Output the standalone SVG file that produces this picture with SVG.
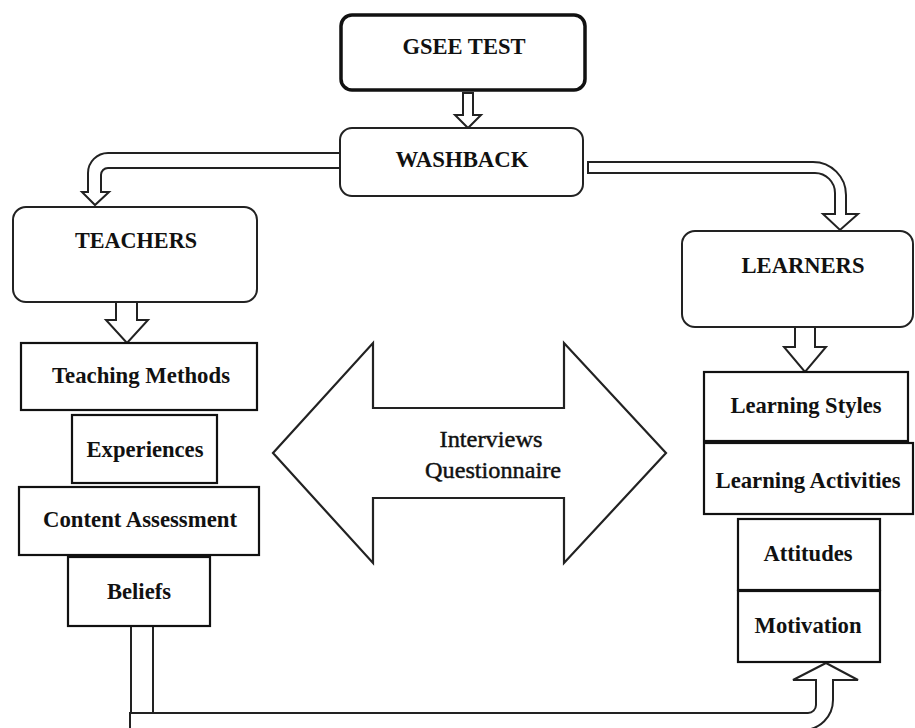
<svg xmlns="http://www.w3.org/2000/svg" width="915" height="728" viewBox="0 0 915 728">
<style>
.pipe{fill:#fff;stroke:#222;stroke-width:2;stroke-linejoin:miter}
.box{fill:#fff;stroke:#111;stroke-width:2.2}
.rbox{fill:#fff;stroke:#222;stroke-width:2}
.t{font-family:"Liberation Serif","Times New Roman",serif;font-weight:bold;font-size:24px;fill:#111;text-anchor:middle}
.tr{font-family:"Liberation Serif","Times New Roman",serif;font-weight:normal;font-size:24px;fill:#111;stroke:#111;stroke-width:0.45;text-anchor:middle}
</style>
<rect width="915" height="728" fill="#fff"/>
<g id="connectors">
<path class="pipe" d="M340,153 H108 A20,20 0 0 0 88,173 V192 H82 L95,205 L109,192 H101 V175 A7,7 0 0 1 108,168 H340 Z"/>
<path class="pipe" d="M588,162 H813 A33,33 0 0 1 846,195 V214 H858 L840,230 L823,214 H835 V193 A20,20 0 0 0 815,173 H588 Z"/>
<path class="pipe" d="M463,93 H473 V115 H481 L468,128 L455,115 H463 Z"/>
<path class="pipe" d="M116,302 H137 V320 H148 L127,343 L106,320 H116 Z"/>
<path class="pipe" d="M795,327 H815 V347 H826 L805,372 L784,347 H795 Z"/>
<path class="pipe" d="M131,626 H153 V713 H131 Z"/>
<path class="pipe" d="M130,713 H808 A8,8 0 0 0 816,705 V680 H793 L826,663 L858,680 H833 V700 A30,30 0 0 1 803,730 H130 Z"/>
</g>
<g id="gsee"><rect class="rbox" x="341" y="15" width="244" height="75" rx="11" style="stroke-width:3.5;stroke:#111"/><text class="t" x="464" y="54" textLength="123" lengthAdjust="spacingAndGlyphs">GSEE TEST</text></g>
<g id="washback"><rect class="rbox" x="340" y="128" width="243" height="68" rx="12"/><text class="t" x="462" y="167" textLength="133" lengthAdjust="spacingAndGlyphs">WASHBACK</text></g>
<g id="teachers"><rect class="rbox" x="13" y="207" width="244" height="95" rx="13"/><text class="t" x="136" y="248" textLength="122" lengthAdjust="spacingAndGlyphs">TEACHERS</text></g>
<g id="learners"><rect class="rbox" x="682" y="231" width="231" height="96" rx="13"/><text class="t" x="803" y="273" textLength="123" lengthAdjust="spacingAndGlyphs">LEARNERS</text></g>
<g id="teaching-methods"><rect class="box" x="21" y="343" width="236" height="67"/><text class="t" x="141" y="383" textLength="178" lengthAdjust="spacingAndGlyphs">Teaching Methods</text></g>
<g id="experiences"><rect class="box" x="72" y="415" width="145" height="68"/><text class="t" x="145" y="457" textLength="117" lengthAdjust="spacingAndGlyphs">Experiences</text></g>
<g id="content-assessment"><rect class="box" x="19" y="487" width="240" height="68"/><text class="t" x="140" y="527" textLength="194" lengthAdjust="spacingAndGlyphs">Content Assessment</text></g>
<g id="beliefs"><rect class="box" x="68" y="557" width="142" height="69"/><text class="t" x="139" y="599" textLength="64" lengthAdjust="spacingAndGlyphs">Beliefs</text></g>
<g id="interviews"><path class="pipe" d="M273,453 L373,343 V408 H564 V343 L666,453 L564,563 V498 H373 V563 Z" style="stroke-width:2.2"/><text class="tr" x="491" y="447" textLength="103" lengthAdjust="spacingAndGlyphs">Interviews</text><text class="tr" x="493" y="478" textLength="136" lengthAdjust="spacingAndGlyphs">Questionnaire</text></g>
<g id="learning-styles"><rect class="box" x="704" y="372" width="204" height="69"/><text class="t" x="806" y="413" textLength="151" lengthAdjust="spacingAndGlyphs">Learning Styles</text></g>
<g id="learning-activities"><rect class="box" x="704" y="443" width="209" height="71"/><text class="t" x="808" y="488" textLength="185" lengthAdjust="spacingAndGlyphs">Learning Activities</text></g>
<g id="attitudes"><rect class="box" x="738" y="519" width="142" height="71"/><text class="t" x="808" y="561" textLength="89" lengthAdjust="spacingAndGlyphs">Attitudes</text></g>
<g id="motivation"><rect class="box" x="738" y="591" width="142" height="71"/><text class="t" x="808" y="633" textLength="107" lengthAdjust="spacingAndGlyphs">Motivation</text></g>
</svg>
